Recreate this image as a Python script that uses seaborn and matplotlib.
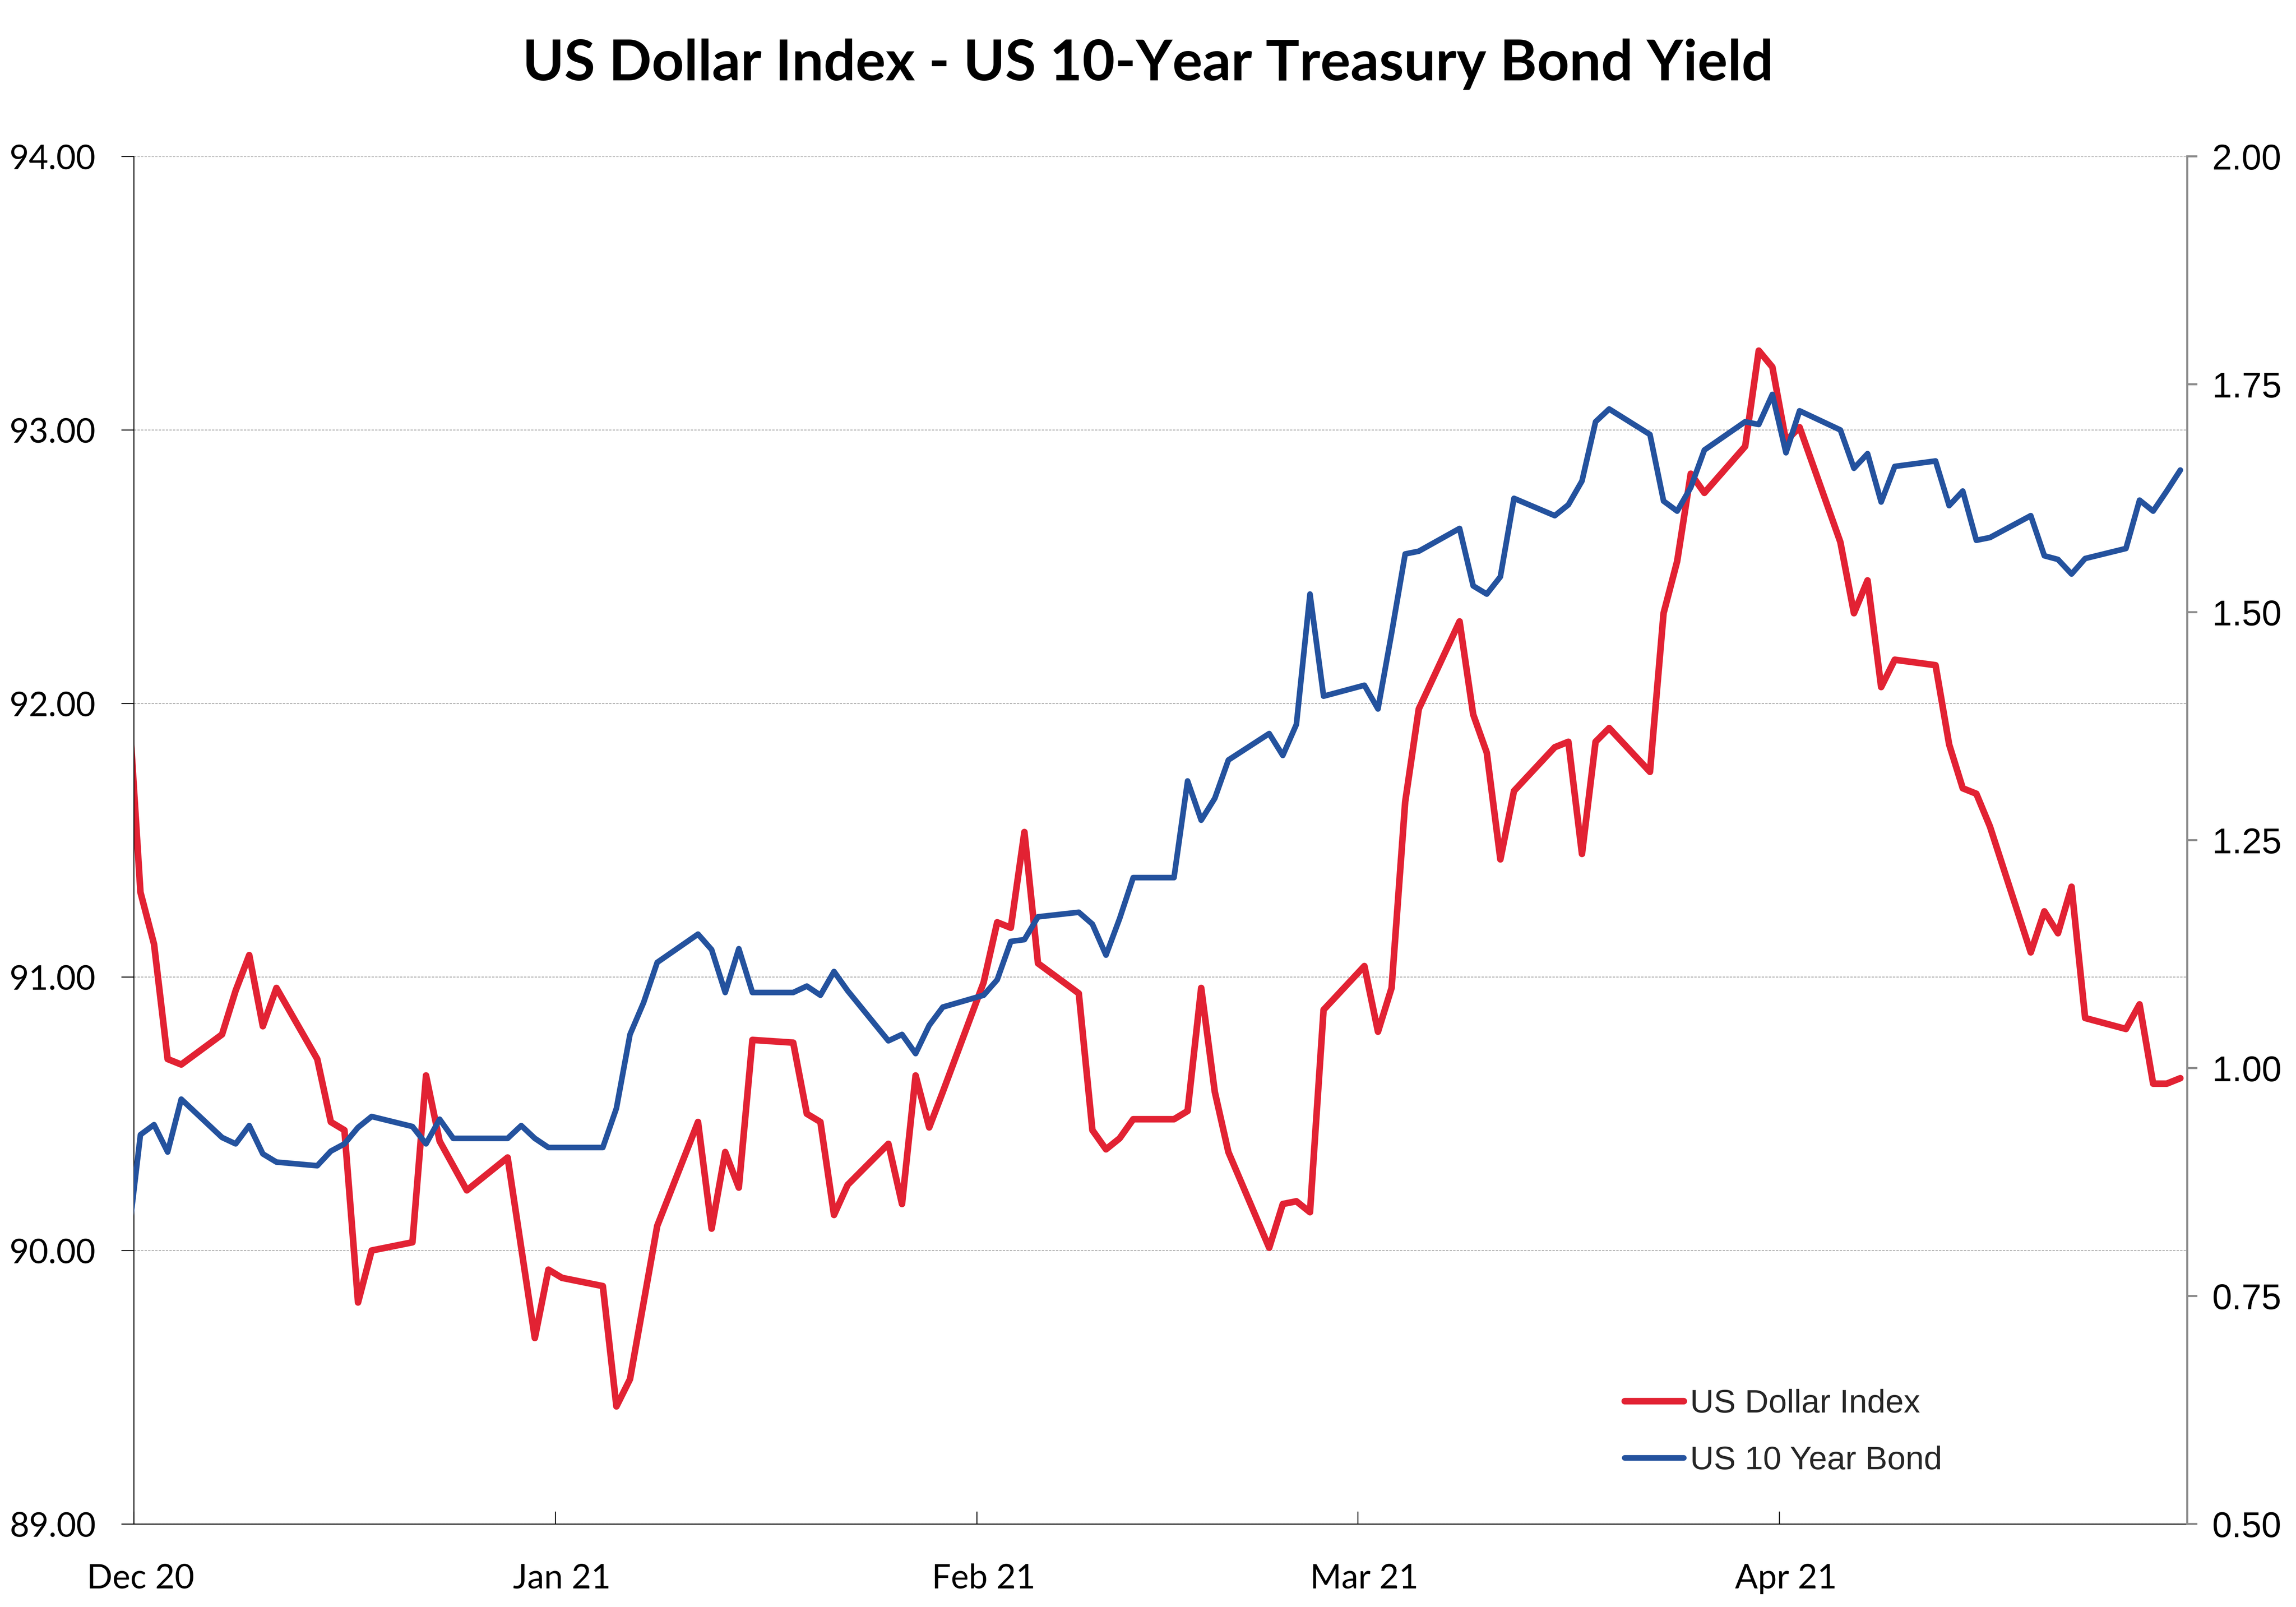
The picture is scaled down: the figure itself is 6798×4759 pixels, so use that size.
import numpy as np
import pandas as pd
import matplotlib
matplotlib.use("Agg")
import matplotlib.pyplot as plt
import matplotlib.dates as mdates
from matplotlib.lines import Line2D
import seaborn as sns

# ---------------- data ----------------
title = "US Dollar Index - US 10-Year Treasury Bond Yield"
series_names = ["US Dollar Index", "US 10 Year Bond"]

# business days from Nov 30 2020 to Apr 30 2021
trading_days = pd.bdate_range("2020-11-30", "2021-04-30")

dollar_index = [
    92.10,
    # Dec 2020
    91.31, 91.12, 90.70, 90.68,
    90.79, 90.95, 91.08, 90.82, 90.96,
    90.70, 90.47, 90.44, 89.81, 90.00,
    90.03, 90.64, 90.40, 90.31, 90.22,
    90.34, 90.01, 89.68, 89.93,
    # Jan 2021
    89.90,
    89.87, 89.43, 89.53, 89.81, 90.09,
    90.47, 90.08, 90.36, 90.23, 90.77,
    90.76, 90.50, 90.47, 90.13, 90.24,
    90.39, 90.17, 90.64, 90.45, 90.58,
    # Feb 2021
    90.98, 91.20, 91.18, 91.53, 91.05,
    90.94, 90.44, 90.37, 90.41, 90.48,
    90.48, 90.51, 90.96, 90.58, 90.36,
    90.01, 90.17, 90.18, 90.14, 90.88,
    # Mar 2021
    91.04, 90.80, 90.96, 91.64, 91.98,
    92.30, 91.96, 91.82, 91.43, 91.68,
    91.84, 91.86, 91.45, 91.86, 91.91,
    91.75, 92.33, 92.52, 92.84, 92.77,
    92.94, 93.29, 93.23,
    # Apr 2021
    92.96, 93.01,
    92.59, 92.33, 92.45, 92.06, 92.16,
    92.14, 91.85, 91.69, 91.67, 91.55,
    91.09, 91.24, 91.16, 91.33, 90.85,
    90.81, 90.90, 90.61, 90.61, 90.63,
]

bond_yield = [
    0.800,
    # Dec 2020
    0.927, 0.938, 0.908, 0.966,
    0.924, 0.917, 0.937, 0.906, 0.897,
    0.893, 0.909, 0.917, 0.935, 0.947,
    0.936, 0.917, 0.944, 0.923, 0.923,
    0.923, 0.937, 0.923, 0.913,
    # Jan 2021
    0.913,
    0.913, 0.956, 1.037, 1.072, 1.116,
    1.147, 1.130, 1.083, 1.131, 1.083,
    1.083, 1.090, 1.080, 1.106, 1.085,
    1.030, 1.037, 1.016, 1.047, 1.067,
    # Feb 2021
    1.080, 1.097, 1.139, 1.141, 1.166,
    1.171, 1.158, 1.124, 1.164, 1.209,
    1.209, 1.315, 1.272, 1.296, 1.338,
    1.367, 1.343, 1.377, 1.520, 1.408,
    # Mar 2021
    1.420, 1.394, 1.477, 1.564, 1.567,
    1.592, 1.529, 1.520, 1.539, 1.625,
    1.606, 1.618, 1.644, 1.709, 1.723,
    1.695, 1.622, 1.611, 1.637, 1.678,
    1.709, 1.706, 1.739,
    # Apr 2021
    1.675, 1.721,
    1.700, 1.658, 1.674, 1.621, 1.660,
    1.666, 1.617, 1.633, 1.579, 1.582,
    1.606, 1.562, 1.558, 1.542, 1.559,
    1.570, 1.623, 1.611, 1.633, 1.656,
]

month_starts = ["2020-12-01", "2021-01-01", "2021-02-01", "2021-03-01", "2021-04-01", "2021-05-01"]
month_labels = ["Dec 20", "Jan 21", "Feb 21", "Mar 21", "Apr 21"]
left_ticks = [89, 90, 91, 92, 93, 94]
right_ticks = [0.50, 0.75, 1.00, 1.25, 1.50, 1.75, 2.00]

RED = "#E22233"
BLUE = "#24529E"
RED_LW = 3.5
BLUE_LW = 3.0

# ---------------- figure ----------------
sns.set_theme(style="white")
plt.rcParams["font.family"] = ["Lato", "DejaVu Sans"]

W, H, DPI = 6798, 4759, 400
fig = plt.figure(figsize=(W / DPI, H / DPI), dpi=DPI)
fig.patch.set_facecolor("white")
ax = fig.add_axes([395.7 / W, 1 - 4513.3 / H, 6080 / W, 4050 / H])
ax2 = ax.twinx()

# Excel date axis puts each point in the middle of its day slot
df = pd.DataFrame({
    "date": trading_days + pd.Timedelta(hours=12),
    "dxy": dollar_index,
    "yield": bond_yield,
})

sns.lineplot(data=df, x="date", y="dxy", ax=ax, color=RED, linewidth=RED_LW, legend=False)
sns.lineplot(data=df, x="date", y="yield", ax=ax2, color=BLUE, linewidth=BLUE_LW, legend=False)
for ln in ax.lines + ax2.lines:
    ln.set_solid_joinstyle("round")
    ln.set_solid_capstyle("round")

ax.set_xlim(pd.Timestamp("2020-12-01"), pd.Timestamp("2021-05-01"))
ax.set_ylim(89, 94)
ax2.set_ylim(0.5, 2.0)

# x ticks: marks at month starts (inside), labels centred on the 1st's slot
major_pos = [mdates.date2num(pd.Timestamp(d) + pd.Timedelta(hours=12)) for d in month_starts[:-1]]
minor_pos = [mdates.date2num(pd.Timestamp(d)) for d in month_starts]
ax.xaxis.set_major_locator(matplotlib.ticker.FixedLocator(major_pos))
ax.xaxis.set_major_formatter(matplotlib.ticker.FixedFormatter(month_labels))
ax.xaxis.set_minor_locator(matplotlib.ticker.FixedLocator(minor_pos))
ax.tick_params(axis="x", which="major", bottom=True, length=0, pad=21, labelsize=18, labelcolor="black")
ax.tick_params(axis="x", which="minor", bottom=True, direction="in", length=6.7, width=0.5, color="black")

ax.set_yticks(left_ticks)
ax.set_yticklabels([f"{v:.2f}" for v in left_ticks])
ax.tick_params(axis="y", left=True, direction="out", length=6.7, width=0.5, color="black",
               pad=13.5, labelsize=18, labelcolor="black")

ax2.set_yticks(right_ticks)
ax2.set_yticklabels([f"{v:.2f}" for v in right_ticks])
ax2.tick_params(axis="y", right=True, direction="out", length=5.4, width=1.1, color="#8C8C8C",
                pad=8, labelsize=19, labelcolor="black")
for lab in ax2.get_yticklabels():
    lab.set_family(["Liberation Sans", "DejaVu Sans"])

ax.set_xlabel("")
ax.set_ylabel("")
ax2.set_xlabel("")
ax2.set_ylabel("")

# grid
ax.grid(False)
ax2.grid(False)
ax.yaxis.grid(True, color="#A6A6A6", linestyle=(0, (2.8, 1.4)), linewidth=0.45)
ax.set_axisbelow(True)

# spines
for s in ["top", "right"]:
    ax.spines[s].set_visible(False)
ax.spines["left"].set_color("black")
ax.spines["left"].set_linewidth(0.5)
ax.spines["bottom"].set_color("black")
ax.spines["bottom"].set_linewidth(0.5)
for s in ["left", "top", "bottom"]:
    ax2.spines[s].set_visible(False)
ax2.spines["right"].set_color("#8C8C8C")
ax2.spines["right"].set_linewidth(1.1)

# legend
handles = [Line2D([], [], color=RED, lw=RED_LW, solid_capstyle="round"),
           Line2D([], [], color=BLUE, lw=BLUE_LW, solid_capstyle="round")]
fig.legend(handles, series_names, loc="center left",
           bbox_to_anchor=(4810 / W, 1 - 4242 / H), bbox_transform=fig.transFigure,
           frameon=False, prop={"family": ["Liberation Sans", "DejaVu Sans"], "size": 17.5},
           handlelength=1.8, handletextpad=0.2, labelspacing=0.8,
           borderpad=0, borderaxespad=0)

# title
fig.text(0.5, 1 - 190 / H, title, ha="center", va="center", fontsize=30,
         fontweight="bold", color="black", family=["Lato", "DejaVu Sans"])

fig.savefig("out.png", dpi=DPI, facecolor="white")
